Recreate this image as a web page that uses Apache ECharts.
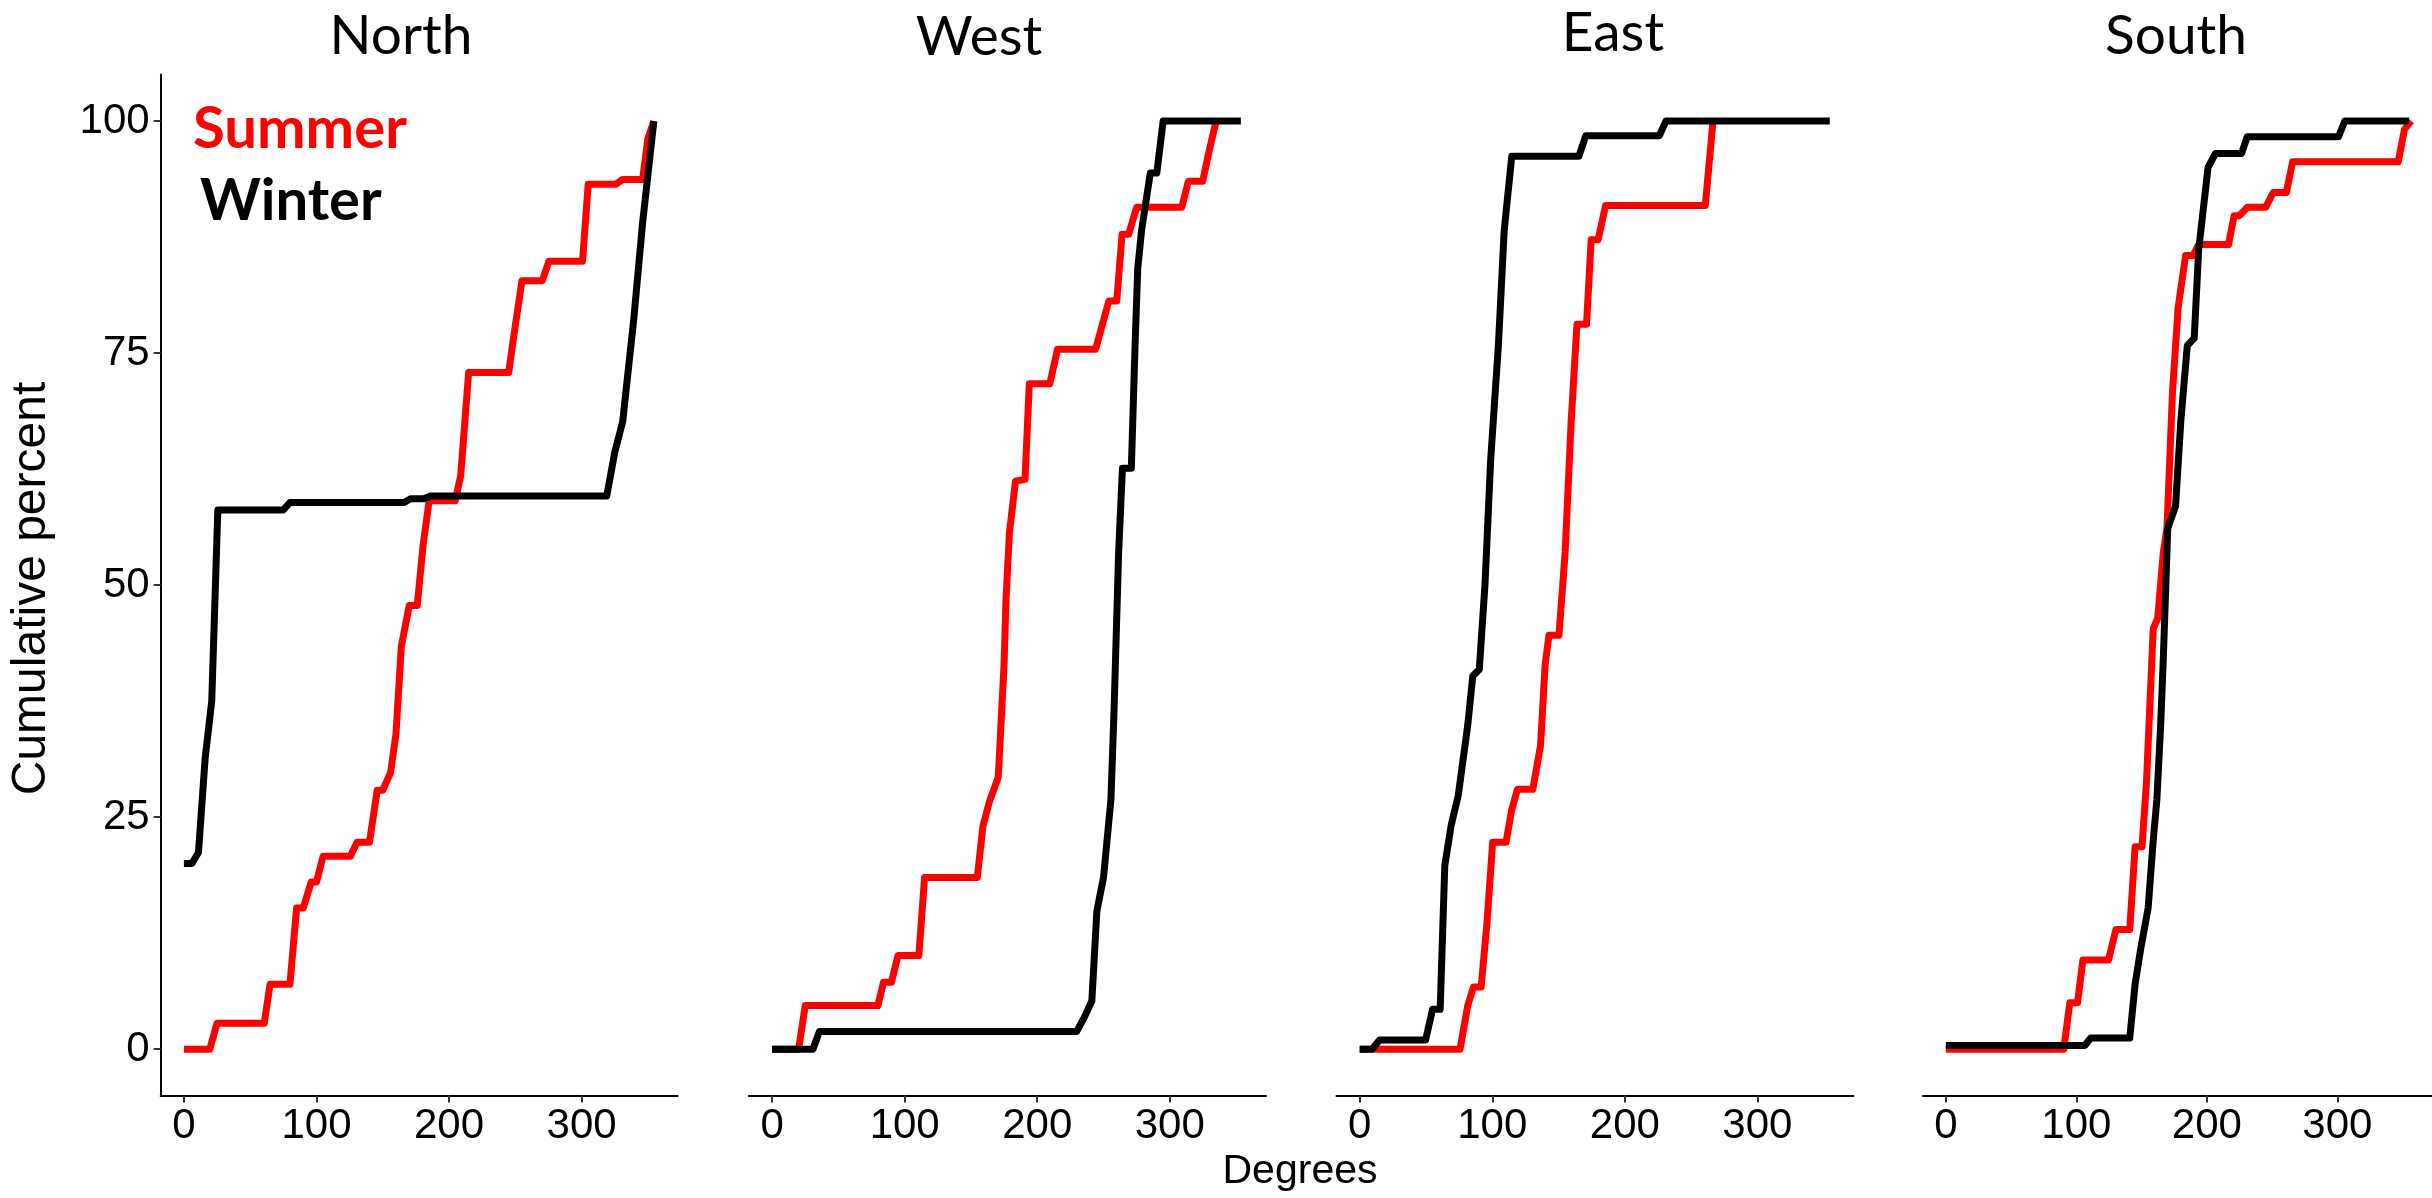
<!DOCTYPE html>
<html><head><meta charset="utf-8">
<script src="https://cdn.jsdelivr.net/npm/echarts@6/dist/echarts.min.js"></script>
<style>html,body{margin:0;padding:0;background:#fff}#c{width:2432px;height:1198px}</style>
</head><body><div id="c"></div>
<script>
const panels = ['North', 'West', 'East', 'South'];
const seasons = ['Summer', 'Winter'];
const xTicks = [0, 100, 200, 300];
const yTicks = [0, 25, 50, 75, 100];
const xTitle = 'Degrees';
const yTitle = 'Cumulative percent';

const northSummer = [[0,0],[19.5,0],[25,2.8],[60.6,2.8],[65,7.0],[80,7.0],[85,15.2],[90,15.2],[96,18.0],[100,18.0],[105,20.8],[125.6,20.8],[130.6,22.3],[140,22.3],[145.8,27.9],[150,27.9],[155.9,29.8],[160,34],[164,43.4],[170,47.8],[176,47.8],[180.5,54.4],[185,59.1],[204.7,59.1],[208.8,61.8],[214.8,72.9],[245,72.9],[247.8,75.8],[255,82.8],[270.4,82.8],[275.4,84.9],[300.7,84.9],[305,93.2],[326,93.2],[331,93.7],[346,93.7],[350,98.1],[354.5,100]];
const northWinter = [[0,20.0],[6,20.0],[11,21.2],[16,31.3],[21,37.5],[25.6,58.1],[75,58.1],[80,58.9],[166,58.9],[171,59.3],[181,59.3],[186,59.6],[319,59.6],[325,64.3],[331,67.6],[339.4,78.7],[346,89],[354.5,100]];

const westSummer = [[0,0],[20,0],[25,4.7],[79.8,4.7],[84,7.2],[90,7.2],[95,10.1],[110.7,10.1],[115,18.5],[154.8,18.5],[159,24.0],[164,26.7],[170.6,29.3],[175,41.5],[176.4,48.3],[179,55.6],[183.6,61.2],[190.8,61.4],[194,71.7],[209.5,71.7],[215.3,75.4],[244,75.4],[254,80.6],[260,80.6],[264,87.8],[269,87.8],[275,90.7],[309,90.7],[314,93.5],[324.8,93.5],[329.7,96.8],[335,100]];
const westWinter = [[0,0],[30.8,0],[35.7,1.9],[229.7,1.9],[235.4,3.4],[241.2,5.2],[245,14.9],[250,18.5],[255.6,26.9],[258,36.7],[261.4,53.5],[264.3,62.6],[271,62.6],[273.8,75.8],[275.8,84.1],[278.7,88.2],[285.3,94.4],[290.2,94.4],[295,100],[353.6,100]];

const eastSummer = [[0,0],[75.7,0],[81.5,4.7],[85.8,6.7],[91.6,6.7],[96,13.6],[100.3,22.3],[110.4,22.3],[114.7,25.8],[119,28.0],[130.6,28.0],[136.4,32.7],[139.9,41.5],[142.8,44.6],[150.3,44.6],[155,53.6],[159.5,67.6],[163.9,78.1],[171.1,78.1],[174.6,87.2],[179.8,87.2],[185.5,90.9],[260.7,90.9],[266.5,100]];
const eastWinter = [[0,0],[9.2,0],[15,1.0],[49.7,1.0],[55,4.3],[60.7,4.3],[64.2,19.8],[69.1,24.2],[74.3,27.3],[81.5,34.9],[85.3,40.2],[90.2,40.9],[94.5,50],[98.8,63.5],[104.6,75.8],[109,88.2],[114.7,96.2],[165.3,96.2],[170.5,98.4],[226,98.4],[231,100],[354.6,100]];

const southSummer = [[0,0],[90.3,0],[95,5.0],[100.9,5.0],[105,9.6],[124.6,9.6],[130.3,12.9],[140.9,12.9],[145,21.8],[150.3,21.8],[153.7,28.7],[158.9,45.3],[162.3,46.4],[166.6,53.5],[169.4,56.1],[173.7,70.9],[178,79.9],[183.7,85.5],[189.4,85.5],[193.7,86.7],[216.6,86.7],[220.9,89.8],[225,89.8],[230.9,90.7],[245,90.7],[250.9,92.3],[260.9,92.3],[265.7,95.6],[346.6,95.6],[351.4,99.1],[356.6,100]];
const southWinter = [[0,0.4],[106.6,0.4],[110.9,1.2],[140.9,1.2],[145,7.0],[149.4,10.9],[155,15.2],[158.9,22.5],[161.7,26.9],[164.6,34.9],[166.6,42.0],[169.4,53.5],[170,56.1],[176,58.5],[180,67.6],[185,75.8],[190.3,76.6],[193.7,86.1],[200.9,95.0],[206.6,96.5],[226.6,96.5],[230.9,98.3],[300.9,98.3],[305.7,100],[355,100]];

const summerData = [northSummer, westSummer, eastSummer, southSummer];
const winterData = [northWinter, westWinter, eastWinter, southWinter];
const seasonColors = ['#ff0000', '#000000'];

const gridLefts = [160.7, 748.9, 1336.5, 1923];
const titleX = [401, 979, 1613, 2176];
const titleY = [36, 37, 33, 36];

const chart = echarts.init(document.getElementById('c'), null, {renderer: 'canvas'});

const grids = gridLefts.map(l => ({left: l, top: 74.6, width: 517, height: 1021, containLabel: false}));
const xAxes = gridLefts.map((l, i) => ({
  type: 'value', gridIndex: i, min: -17.5, max: 372.5,
  axisLine: {show: true, onZero: false, lineStyle: {color: '#000', width: 2}},
  axisTick: {show: true, length: 7, customValues: xTicks, lineStyle: {color: '#333', width: 2}},
  axisLabel: {show: true, customValues: xTicks, fontSize: 42, fontFamily: 'Liberation Sans', color: '#000', margin: 10},
  splitLine: {show: false}
}));
const yAxes = gridLefts.map((l, i) => ({
  type: 'value', gridIndex: i, min: -5, max: 105, show: i === 0,
  axisLine: {show: true, onZero: false, lineStyle: {color: '#000', width: 2}},
  axisTick: {show: true, length: 7, customValues: yTicks, lineStyle: {color: '#333', width: 2}},
  axisLabel: {show: true, customValues: yTicks, fontSize: 42, fontFamily: 'Liberation Sans', color: '#000', margin: 11},
  splitLine: {show: false}
}));

const series = [];
panels.forEach((p, i) => {
  [summerData[i], winterData[i]].forEach((d, s) => {
    series.push({
      type: 'line', name: p + ' ' + seasons[s], xAxisIndex: i, yAxisIndex: i,
      data: d, symbol: 'none', showSymbol: false, smooth: false,
      lineStyle: {color: seasonColors[s], width: 7, cap: 'butt', join: 'round'},
      itemStyle: {color: seasonColors[s]}, z: 2 + s
    });
  });
});

function txt(x, y, text, font, fill, rot) {
  return {type: 'text', x: x, y: y, rotation: rot || 0, silent: true, z: 10,
    style: {text: text, font: font, fill: fill, textAlign: 'center', textVerticalAlign: 'middle', align: 'center', verticalAlign: 'middle'}};
}
function ltxt(x, y, text, font, fill) {
  return {type: 'text', x: x, y: y, silent: true, z: 10,
    style: {text: text, font: font, fill: fill, textAlign: 'left', textVerticalAlign: 'middle', align: 'left', verticalAlign: 'middle'}};
}

const graphics = panels.map((p, i) => txt(titleX[i], titleY[i], p, '55px Lato', '#000'));
graphics.push(txt(32, 588.5, yTitle, '48px "Liberation Sans"', '#000', Math.PI / 2));
graphics.push(txt(1300, 1171.5, xTitle, '41px "Liberation Sans"', '#000'));
graphics.push(ltxt(193, 129, seasons[0], 'bold 58px Lato', seasonColors[0]));
graphics.push(ltxt(200, 201, seasons[1], 'bold 58px Lato', seasonColors[1]));

chart.setOption({
  animation: false,
  backgroundColor: '#fff',
  grid: grids, xAxis: xAxes, yAxis: yAxes, series: series,
  graphic: graphics
});
</script>
</body></html>
